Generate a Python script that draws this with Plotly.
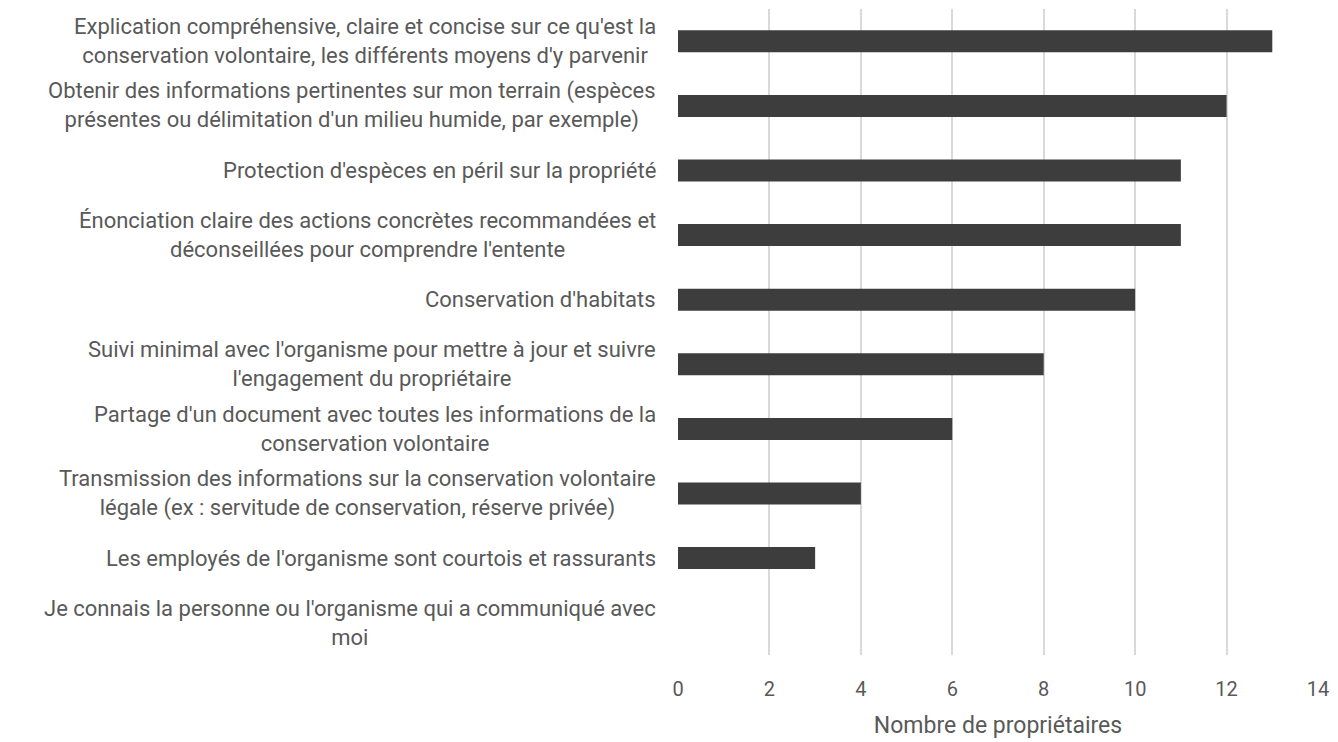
import plotly.graph_objects as go

# categories, top to bottom
categories = [
    "Explication compréhensive, claire et concise sur ce qu'est la<br>conservation volontaire, les différents moyens d'y parvenir",
    "Obtenir des informations pertinentes sur mon terrain (espèces<br>présentes ou délimitation d'un milieu humide, par exemple)",
    "Protection d'espèces en péril sur la propriété",
    "Énonciation claire des actions concrètes recommandées et<br>déconseillées pour comprendre l'entente",
    "Conservation d'habitats",
    "Suivi minimal avec l'organisme pour mettre à jour et suivre<br>l'engagement du propriétaire",
    "Partage d'un document avec toutes les informations de la<br>conservation volontaire",
    "Transmission des informations sur la conservation volontaire<br>légale (ex : servitude de conservation, réserve privée)",
    "Les employés de l'organisme sont courtois et rassurants",
    "Je connais la personne ou l'organisme qui a communiqué avec<br>moi",
]
counts = [13, 12, 11, 11, 10, 8, 6, 4, 3, 0]
x_ticks = [0, 2, 4, 6, 8, 10, 12, 14]

FONT = "Roboto, sans-serif"
GREY_TXT = "#595959"

fig = go.Figure(go.Bar(
    x=counts, y=list(range(len(categories))), orientation="h",
    marker=dict(color="#3d3d3d", line=dict(width=0)),
    width=0.34, hoverinfo="x",
))

# category labels as centred multi-line annotations to the left of the plot
for i, lab in enumerate(categories):
    fig.add_annotation(
        x=0, xref="paper", y=i, yref="y", text=lab, showarrow=False,
        xanchor="right", xshift=-20, align="center",
        font=dict(family=FONT, size=22, color=GREY_TXT),
    )

fig.update_layout(
    width=1338, height=742,
    paper_bgcolor="white", plot_bgcolor="white",
    margin=dict(l=678, r=18, t=9, b=83),
    showlegend=False,
    xaxis=dict(
        range=[0, 14], tickvals=x_ticks, showgrid=True, gridcolor="#d9d9d9",
        gridwidth=1.5, zeroline=False, showline=False,
        tickfont=dict(family=FONT, size=20, color=GREY_TXT),
        ticks="outside", ticklen=16, tickcolor="rgba(0,0,0,0)",
        title=dict(text="Nombre de propriétaires", standoff=16,
                   font=dict(family=FONT, size=23, color=GREY_TXT)),
    ),
    yaxis=dict(
        range=[len(categories) - 0.5, -0.5], showticklabels=False,
        showgrid=False, zeroline=False, showline=False,
    ),
)

# the page body has a default margin; remove it so the figure sits at 0,0
fig.write_html("out.html", config={"displayModeBar": False},
               post_script="document.body.style.margin='0';")
